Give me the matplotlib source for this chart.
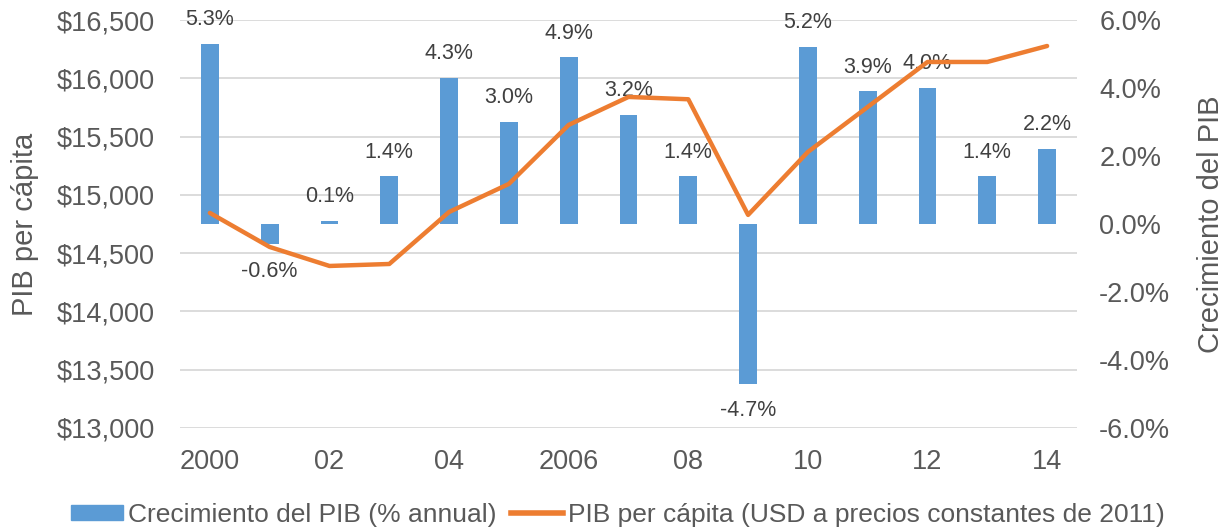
import matplotlib.pyplot as plt
from matplotlib.patches import Patch
from matplotlib.lines import Line2D
from matplotlib.ticker import FuncFormatter

plt.rcParams["font.family"] = ["Liberation Sans", "DejaVu Sans"]

# datos
years = list(range(2000, 2015))
tick_labels = ["2000", "", "02", "", "04", "", "2006", "", "08", "", "10", "", "12", "", "14"]
crecimiento = [5.3, -0.6, 0.1, 1.4, 4.3, 3.0, 4.9, 3.2, 1.4, -4.7, 5.2, 3.9, 4.0, 1.4, 2.2]
pib_pc = [14845, 14553, 14390, 14407, 14853, 15094, 15600, 15840, 15820,
          14828, 15368, 15754, 16140, 16140, 16277]

azul = "#5B9BD5"
naranja = "#ED7D31"
gris = "#595959"

fig = plt.figure(figsize=(12.31, 5.32), dpi=100)
ax = fig.add_axes([0.1462, 0.1955, 0.7287, 0.7669])
ax2 = ax.twinx()   # barras (eje derecho)
ax3 = ax.twinx()   # linea, encima de las barras

x = list(range(len(years)))

# eje izquierdo + rejilla
ax.set_ylim(13000, 16500)
ax.set_yticks(range(13000, 16501, 500))
ax.yaxis.set_major_formatter(FuncFormatter(lambda v, p: f"${v:,.0f}"))
ax.grid(axis="y", color="#D9D9D9", linewidth=1.3)
ax.set_axisbelow(True)
ax.set_ylabel("PIB per cápita", fontsize=21, color=gris, labelpad=13)

# barras
ax2.bar(x, crecimiento, width=0.3, color=azul)
ax2.set_ylim(-6, 6)
ax2.set_yticks(range(-6, 7, 2))
ax2.yaxis.set_major_formatter(FuncFormatter(lambda v, p: f"{v:.1f}%"))
ax2.set_ylabel("Crecimiento del PIB", fontsize=21, color=gris, labelpad=19)
for i, v in enumerate(crecimiento):
    if v >= 0:
        ax2.annotate(f"{v:.1f}%", (i, v), xytext=(0, 10), textcoords="offset points",
                     ha="center", va="bottom", fontsize=15.5, color="#404040")
    else:
        ax2.annotate(f"{v:.1f}%", (i, v), xytext=(0, -12), textcoords="offset points",
                     ha="center", va="top", fontsize=15.5, color="#404040")

# linea
ax3.plot(x, pib_pc, color=naranja, linewidth=3.2, solid_capstyle="round")
ax3.set_ylim(ax.get_ylim())
ax3.set_yticks([])

for a in (ax, ax2, ax3):
    a.set_xlim(-0.5, len(years) - 0.5)
    for s in a.spines.values():
        s.set_visible(False)
    a.tick_params(length=0, labelsize=19.5, colors=gris)

ax.set_xticks(x)
ax.set_xticklabels(tick_labels)
ax.tick_params(axis="x", labelsize=19.5, pad=15)
ax.tick_params(axis="y", pad=18)
ax2.tick_params(axis="y", pad=16)

handles = [Patch(color=azul), Line2D([0], [0], color=naranja, linewidth=4)]
fig.legend(handles, ["Crecimiento del PIB (% annual)",
                     "PIB per cápita (USD a precios constantes de 2011)"],
           loc="lower center", bbox_to_anchor=(0.502, -0.035), ncol=2, frameon=False,
           fontsize=19, labelcolor=gris, handlelength=1.97, handleheight=0.55,
           handletextpad=0.19, columnspacing=0.57)

plt.savefig("out.png")
plt.close()
